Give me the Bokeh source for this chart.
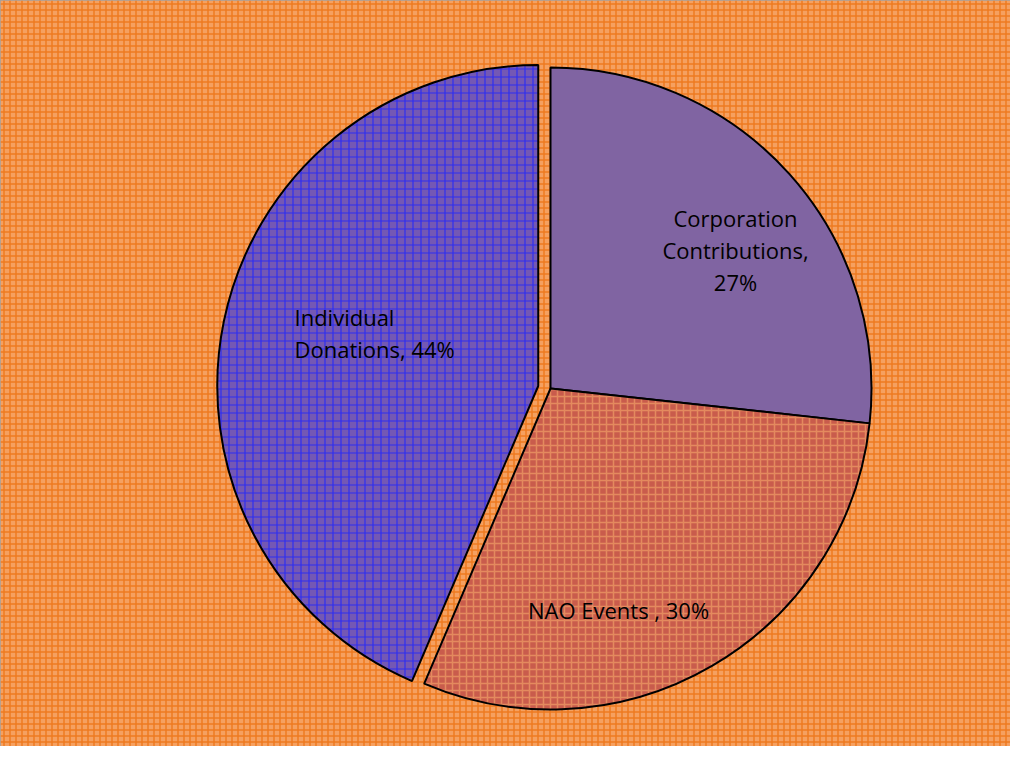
import math
from bokeh.plotting import figure
from bokeh.models import Range1d
from bokeh.core.properties import value
from bokeh.embed import file_html
from bokeh.resources import INLINE

# ---- data ----
categories = ["Corporation Contributions", "NAO Events ", "Individual Donations"]
percents = [27, 30, 44]
label_lines = [["Corporation", "Contributions,", "27%"],
               ["NAO Events , 30%"],
               ["Individual", "Donations, 44%"]]

# ---- styles / layout ----
W, H = 1010, 746
cx, cy = 550, H - 388
R = 321
explode = [0, 0, 12.5]
fills = ["#8064A2", "#C95C4C", "#7458B4"]
hatches = [None, "cross", "cross"]
hatch_cols = [None, "#E48A5E", "#2E2EF0"]
hatch_sc = [None, 7, 8]
hatch_w = [None, 1.5, 1.2]
label_off = [(185, 139), (68, -221), (-256, 56)]   # offsets of label anchor (px, y up)
label_align = ["center", "center", "left"]
line_h = 32

p = figure(width=W, height=H, output_backend="svg", toolbar_location=None,
           x_range=Range1d(0, W), y_range=Range1d(0, H), min_border=0)
p.axis.visible = False
p.grid.visible = False
p.outline_line_color = "#A0A0A0"
p.outline_line_width = 2
p.background_fill_color = "#F49C56"
p.border_fill_color = "#F49C56"

# plaid background
p.quad(left=[0], right=[W], bottom=[0], top=[H], fill_color="#F5A060",
       line_color=None, hatch_pattern="cross", hatch_color="#EE7A20",
       hatch_scale=6, hatch_weight=1.5)

total = sum(percents)
cum = 0.0
for i, v in enumerate(percents):
    a1 = cum / total * 360.0
    a2 = (cum + v) / total * 360.0
    cum += v
    mid = math.radians((a1 + a2) / 2)
    ox = cx + explode[i] * math.sin(mid)
    oy = cy + explode[i] * math.cos(mid)
    kw = dict(x=ox, y=oy, radius=R,
              start_angle=math.radians(90 - a1), end_angle=math.radians(90 - a2),
              direction="clock", fill_color=fills[i], line_color="black", line_width=2)
    if hatches[i]:
        kw.update(hatch_pattern=hatches[i], hatch_color=hatch_cols[i],
                  hatch_scale=hatch_sc[i], hatch_weight=hatch_w[i])
    p.wedge(**kw)

    lines = label_lines[i]
    n = len(lines)
    dx, dy = label_off[i]
    xs = [cx + dx] * n
    ys = [cy + dy + ((n - 1) / 2 - k) * line_h for k in range(n)]
    p.text(x=xs, y=ys, text=lines, text_align=label_align[i], text_baseline="middle",
           text_font=value("Open Sans"), text_font_size="22px", text_color="black")

open("out.html", "w").write(file_html(p, INLINE))
